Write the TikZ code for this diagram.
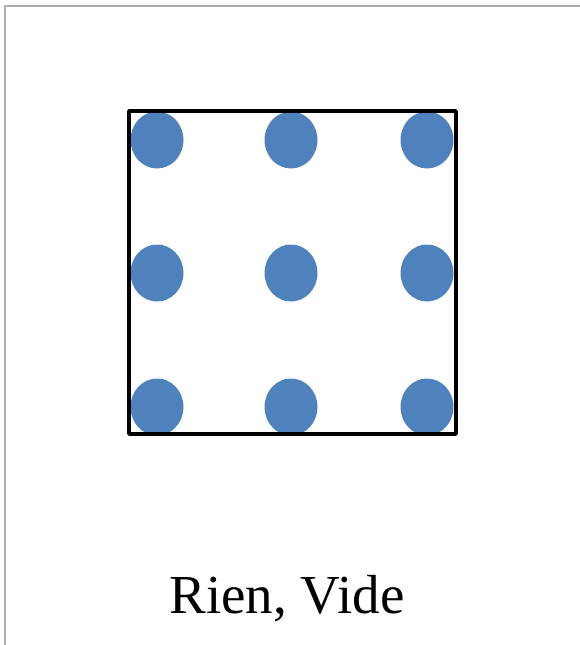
\documentclass[tikz,border=0pt]{standalone}
\usepackage{fontspec}
\setmainfont{Liberation Serif}
\definecolor{dotblue}{RGB}{79,129,189}
\begin{document}
\begin{tikzpicture}[x=1pt,y=-1pt]
  \useasboundingbox (0,0) rectangle (580,645);
  % --- cadre gris ---
  \draw[gray!65, line width=2.5pt] (5,645) -- (5,6) -- (580,6);
  % --- grille de points ---
  \foreach \x in {157,291,427} {
    \foreach \y in {140,273,407} {
      \fill[dotblue] (\x,\y) ellipse (26.5 and 28.5);
    }}
  % --- carré ---
  \draw[black, line width=3.5pt, line join=round] (129,111) rectangle (456,434);
  \node[font=\fontsize{55}{60}\selectfont, anchor=base] (legende) at (287,613) {Rien, Vide};
\end{tikzpicture}
\end{document}
